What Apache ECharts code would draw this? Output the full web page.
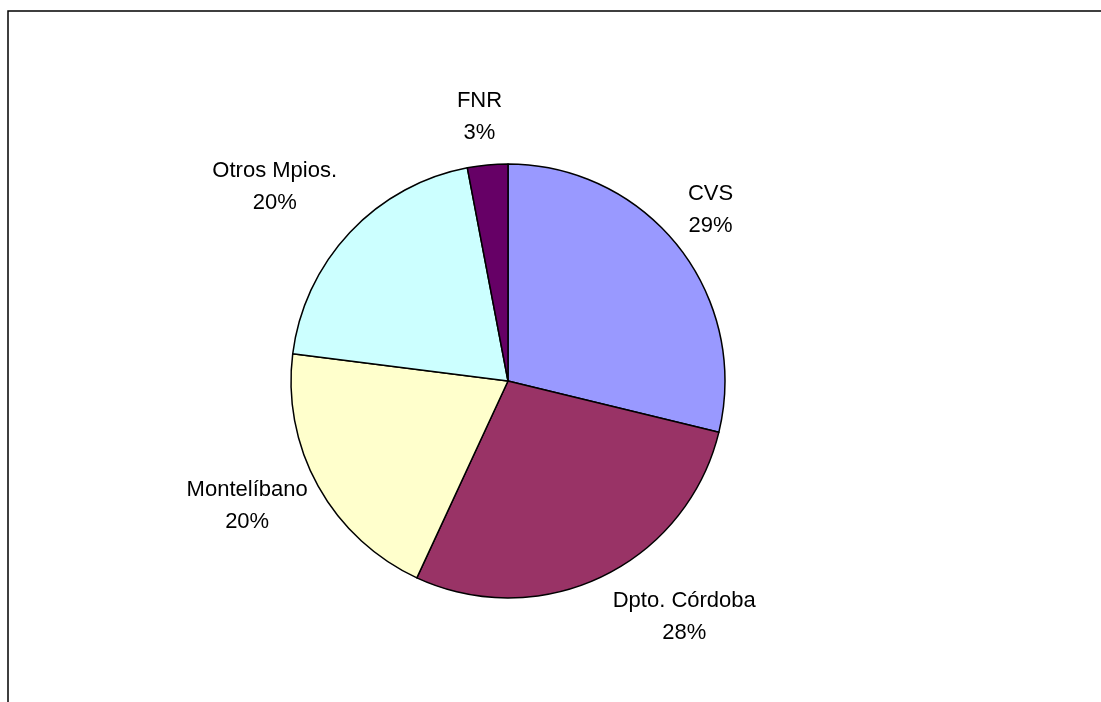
<!DOCTYPE html>
<html>
<head>
<meta charset="utf-8">
<script src="https://cdn.jsdelivr.net/npm/echarts@6/dist/echarts.min.js"></script>
<style>
html,body{margin:0;padding:0;background:#fff;}
#c{width:1101px;height:702px;}
</style>
</head>
<body>
<div id="c"></div>
<script>
var categories = ['CVS', 'Dpto. Córdoba', 'Montelíbano', 'Otros Mpios.', 'FNR'];
var values = [28.8, 28.1, 20.1, 20.0, 3.0];
var colors = ['#9999FF', '#993366', '#FFFFCC', '#CCFFFF', '#660066'];
// label placement tweaks (layout only, in px)
var labelNudge = [[-8, -6], [57, -11], [6, -23], [-25, 2], [-3, 6]];

var CX = 508, CY = 381, R = 217, GAP = 22;
var total = values.reduce(function(a,b){return a+b;}, 0);
var midAngles = [];
(function(){
  var acc = 0;
  for (var i = 0; i < values.length; i++) {
    midAngles.push((acc + values[i] / 2) / total * 2 * Math.PI);
    acc += values[i];
  }
})();

var chart = echarts.init(document.getElementById('c'), null, {renderer: 'canvas'});
chart.setOption({
  backgroundColor: '#ffffff',
  animation: false,
  graphic: [{
    type: 'rect',
    shape: {x: 8, y: 11, width: 1200, height: 800},
    style: {fill: 'none', stroke: '#000', lineWidth: 1.5},
    silent: true
  }],
  series: [{
    type: 'pie',
    center: [CX, CY],
    radius: R,
    startAngle: 90,
    clockwise: true,
    percentPrecision: 0,
    avoidLabelOverlap: false,
    data: categories.map(function(n, i){
      return {name: n, value: values[i], itemStyle: {color: colors[i]}};
    }),
    itemStyle: {borderColor: '#000', borderWidth: 1.5},
    label: {
      show: true,
      position: 'outside',
      formatter: '{b}\n{d}%',
      fontFamily: 'Liberation Sans, Arial, sans-serif',
      fontSize: 22,
      lineHeight: 32,
      color: '#000',
      align: 'center'
    },
    labelLine: {show: false, length: 20, length2: 0},
    labelLayout: function(p) {
      var a = midAngles[p.dataIndex];
      var ux = Math.sin(a), uy = -Math.cos(a);
      var w = p.labelRect.width, h = p.labelRect.height;
      var ex = Math.abs(ux) > 1e-6 ? (w / 2) / Math.abs(ux) : Infinity;
      var ey = Math.abs(uy) > 1e-6 ? (h / 2) / Math.abs(uy) : Infinity;
      var d = R + GAP + Math.min(ex, ey);
      var n = labelNudge[p.dataIndex];
      return {x: CX + d * ux + n[0], y: CY + d * uy + n[1], align: 'center', verticalAlign: 'middle'};
    },
    emphasis: {disabled: true}
  }]
});
</script>
</body>
</html>
